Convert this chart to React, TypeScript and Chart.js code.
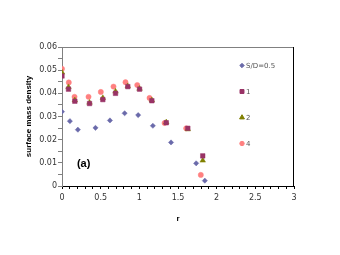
import React, { useEffect, useRef } from "react";
import { Chart, registerables } from "chart.js";
import { drawPoint } from "chart.js/helpers";

Chart.register(...registerables);

const seriesLabels = ["S/D=0.5", "1", "2", "4"];

const r05 = [0.0, 0.102, 0.205, 0.433, 0.62, 0.81, 0.985, 1.175, 1.41, 1.735, 1.847];
const d05 = [0.0321, 0.028, 0.0243, 0.0251, 0.0283, 0.0314, 0.0306, 0.026, 0.0188, 0.0098, 0.0023];

const r1 = [0.0, 0.084, 0.166, 0.356, 0.528, 0.692, 0.851, 1.003, 1.162, 1.348, 1.627, 1.82];
const d1 = [0.0475, 0.0418, 0.0366, 0.0356, 0.0373, 0.04, 0.0429, 0.0418, 0.0368, 0.0273, 0.0249, 0.013];

const r2 = [0.0, 0.084, 0.166, 0.356, 0.528, 0.692, 0.851, 1.003, 1.162, 1.348, 1.627, 1.82];
const d2 = [0.049, 0.0427, 0.037, 0.036, 0.038, 0.0408, 0.0431, 0.042, 0.037, 0.0275, 0.0245, 0.011];

const r4 = [0.0, 0.088, 0.162, 0.343, 0.502, 0.666, 0.821, 0.973, 1.132, 1.326, 1.606, 1.795];
const d4 = [0.0506, 0.0447, 0.0385, 0.0385, 0.0406, 0.0429, 0.0448, 0.0436, 0.038, 0.0272, 0.0249, 0.0048];

const xRange = [0, 3];
const yRange = [0, 0.06];

const colors = ["#6a6aaa", "#993366", "#808000", "#ff8080"];
const styles = ["rectRot", "rect", "triangle", "circle"];
const radii = [2.6, 3.2, 3.2, 2.6];

const toPts = (xs: number[], ys: number[]) => xs.map((x, i) => ({ x, y: ys[i] }));

export default function App() {
  const ref = useRef<HTMLCanvasElement | null>(null);

  useEffect(() => {
    if (!ref.current) return;
    const series = [toPts(r05, d05), toPts(r1, d1), toPts(r2, d2), toPts(r4, d4)];

    const extras = {
      id: "extras",
      beforeDatasetsDraw(chart: any) {
        const { ctx, chartArea } = chart;
        ctx.save();
        ctx.lineWidth = 1;
        ctx.strokeStyle = "#808080";
        ctx.beginPath();
        ctx.moveTo(chartArea.left, chartArea.top + 0.5);
        ctx.lineTo(chartArea.right, chartArea.top + 0.5);
        ctx.stroke();
        ctx.strokeStyle = "#000";
        ctx.beginPath();
        ctx.moveTo(chartArea.right - 0.5, chartArea.top);
        ctx.lineTo(chartArea.right - 0.5, chartArea.bottom);
        ctx.stroke();
        ctx.restore();
      },
      afterDraw(chart: any) {
        const { ctx } = chart;
        const xs = chart.scales.x;
        const ys = chart.scales.y;
        ctx.save();
        // annotation
        ctx.fillStyle = "#000";
        ctx.font = "bold 11px 'Liberation Sans'";
        ctx.textAlign = "center";
        ctx.textBaseline = "middle";
        ctx.fillText("(a)", xs.getPixelForValue(0.28), ys.getPixelForValue(0.0095));
        // legend
        ctx.font = "7px 'DejaVu Sans'";
        ctx.textAlign = "left";
        for (let i = 0; i < seriesLabels.length; i++) {
          const lx = 242;
          const ly = 65.5 + i * 26;
          ctx.fillStyle = colors[i];
          ctx.strokeStyle = colors[i];
          drawPoint(ctx, { pointStyle: styles[i] as any, radius: radii[i] - 0.4, borderWidth: 0.5, rotation: 0 }, lx, ly);
          ctx.fillStyle = "#555";
          ctx.fillText(seriesLabels[i], lx + 4, ly + 0.5);
        }
        ctx.restore();
      },
    };

    const chart = new Chart(ref.current, {
      type: "scatter",
      data: {
        datasets: series.map((data, i) => ({
          label: seriesLabels[i],
          data,
          pointStyle: styles[i] as any,
          pointRadius: radii[i],
          pointBackgroundColor: colors[i],
          pointBorderColor: colors[i],
          pointBorderWidth: 0.5,
          showLine: false,
        })),
      },
      options: {
        animation: false,
        responsive: false,
        layout: { padding: { left: 0, top: 47, right: 46, bottom: 29 } },
        plugins: { legend: { display: false }, tooltip: { enabled: false } },
        scales: {
          x: {
            type: "linear",
            min: xRange[0],
            max: xRange[1],
            afterFit: (s: any) => {
              s.height = 40;
            },
            border: { color: "#000", width: 1 },
            grid: { drawOnChartArea: false, drawTicks: true, tickLength: 3, color: "#000" },
            ticks: {
              stepSize: 0.1,
              autoSkip: false,
              maxRotation: 0,
              padding: 4,
              color: "#333",
              font: { family: "'DejaVu Sans'", size: 8 },
              callback: (v: any) => {
                const n = Number(v);
                if (Math.abs(n * 2 - Math.round(n * 2)) < 1e-6) return String(Number(n.toFixed(1)));
                return "";
              },
            },
            title: {
              display: true,
              text: "r",
              color: "#000",
              font: { family: "'Liberation Sans'", size: 8, weight: "bold" },
              padding: { top: 0, bottom: 2 },
            },
          },
          y: {
            type: "linear",
            min: yRange[0],
            max: yRange[1],
            afterFit: (s: any) => {
              s.width = 62;
            },
            border: { color: "#808080", width: 1 },
            grid: { drawOnChartArea: false, drawTicks: true, tickLength: 4, color: "#808080" },
            ticks: {
              stepSize: 0.005,
              autoSkip: false,
              padding: 1,
              color: "#333",
              font: { family: "'DejaVu Sans'", size: 8 },
              callback: (v: any) => {
                const n = Number(v);
                if (Math.abs(n * 100 - Math.round(n * 100)) < 1e-6) return String(Number(n.toFixed(2)));
                return "";
              },
            },
            title: {
              display: true,
              text: "surface mass density",
              color: "#000",
              font: { family: "'Liberation Sans'", size: 8, weight: "bold" },
              padding: { top: 24, bottom: 0 },
            },
          },
        },
      },
      plugins: [extras],
    });
    return () => chart.destroy();
  }, []);

  return (
    <div style={{ position: "absolute", left: 0, top: 0, width: 340, height: 255, background: "#fff" }}>
      <canvas ref={ref} width={340} height={255} style={{ width: 340, height: 255 }} />
    </div>
  );
}
